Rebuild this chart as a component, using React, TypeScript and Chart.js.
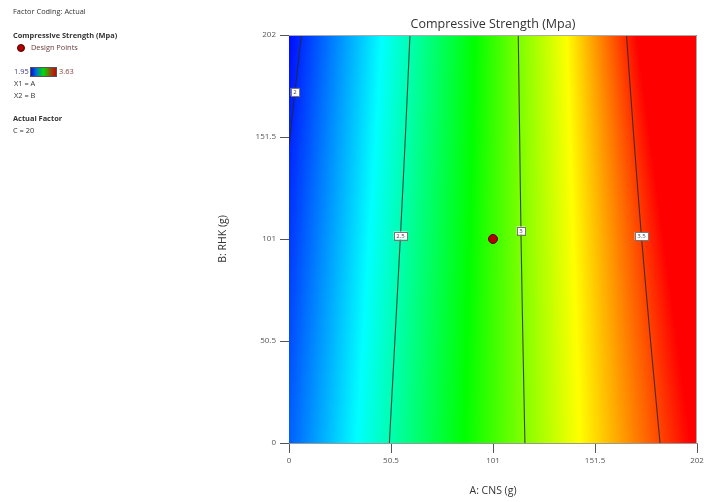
import React, { useEffect, useRef } from 'react';
import { Chart, registerables } from 'chart.js';
Chart.register(...registerables);

// ---- data ----
const axisTicks = [0, 50.5, 101, 151.5, 202];
const contourLevels = ['2', '2.5', '3', '3.5'];
const contourBGrid = [0, 50.5, 101, 151.5, 202];
const contour2A = [0, 6.1];
const contour2B = [147.5, 202];
const contour25A = [49.7, 52.4, 55.1, 57.6, 59.9];
const contour3A = [116.8, 115.8, 114.9, 114.2, 113.5];
const contour35A = [183.7, 179.0, 174.6, 170.7, 167.1];
const labelB = [173.8, 102.7, 105.2, 102.5];
const designA = [101];
const designB = [101];
const colorStops = ['rgb(0,0,255)', 'rgb(0,255,255)', 'rgb(0,255,0)', 'rgb(255,255,0)', 'rgb(255,0,0)'];
const stopsAtB0 = [-20, 33.5, 87, 144, 199];
const stopsAtB202 = [-2, 46, 92, 137.5, 172];
const valueMin = '1.95';
const valueMax = '3.63';

const FONT = '"Open Sans", "Noto Sans", sans-serif';

const contours = [
  { a: contour2A, b: contour2B },
  { a: contour25A, b: contourBGrid },
  { a: contour3A, b: contourBGrid },
  { a: contour35A, b: contourBGrid },
];

function interpA(c: { a: number[]; b: number[] }, b: number) {
  for (let i = 0; i < c.b.length - 1; i++) {
    if (b >= c.b[i] && b <= c.b[i + 1]) {
      const t = (b - c.b[i]) / (c.b[i + 1] - c.b[i]);
      return c.a[i] + (c.a[i + 1] - c.a[i]) * t;
    }
  }
  return c.a[c.a.length - 1];
}

const fieldPlugin = {
  id: 'field',
  beforeDatasetsDraw(chart: any) {
    const { ctx, chartArea } = chart;
    const xs = chart.scales.x;
    const ys = chart.scales.y;
    ctx.save();
    for (let py = Math.floor(chartArea.top); py < Math.ceil(chartArea.bottom); py++) {
      const b = ys.getValueForPixel(py + 0.5);
      const t = b / 202;
      const px = stopsAtB0.map((s0, i) => xs.getPixelForValue(s0 + (stopsAtB202[i] - s0) * t));
      const p0 = px[0];
      const p1 = px[px.length - 1];
      const g = ctx.createLinearGradient(p0, 0, p1, 0);
      px.forEach((p: number, i: number) => g.addColorStop(Math.min(1, Math.max(0, (p - p0) / (p1 - p0))), colorStops[i]));
      ctx.fillStyle = g;
      ctx.fillRect(chartArea.left, py, chartArea.right - chartArea.left, 1);
    }
    ctx.restore();
  },
  afterDatasetsDraw(chart: any) {
    const { ctx, chartArea } = chart;
    const xs = chart.scales.x;
    const ys = chart.scales.y;
    ctx.save();
    ctx.font = `6px ${FONT}`;
    ctx.textAlign = 'center';
    ctx.textBaseline = 'middle';
    contours.forEach((c, i) => {
      const b = labelB[i];
      const a = interpA(c, b);
      const x = xs.getPixelForValue(a);
      const y = ys.getPixelForValue(b);
      const txt = contourLevels[i];
      const w = ctx.measureText(txt).width + 5;
      const h = 8;
      ctx.fillStyle = '#ffffff';
      ctx.fillRect(x - w / 2, y - h / 2, w, h);
      ctx.strokeStyle = '#777';
      ctx.lineWidth = 1;
      ctx.strokeRect(Math.round(x - w / 2) + 0.5, Math.round(y - h / 2) + 0.5, Math.round(w), h);
      ctx.fillStyle = '#444';
      ctx.fillText(txt, x, y + 0.5);
    });
    ctx.strokeStyle = '#aaa';
    ctx.lineWidth = 1;
    ctx.beginPath();
    ctx.moveTo(chartArea.left, chartArea.top + 0.5);
    ctx.lineTo(chartArea.right - 0.5, chartArea.top + 0.5);
    ctx.lineTo(chartArea.right - 0.5, chartArea.bottom);
    ctx.stroke();
    ctx.restore();
  },
  afterDraw(chart: any) {
    const { ctx, chartArea } = chart;
    ctx.save();
    const cx = (chartArea.left + chartArea.right) / 2;
    ctx.fillStyle = '#333';
    ctx.textBaseline = 'middle';
    ctx.textAlign = 'center';
    ctx.font = `12.5px ${FONT}`;
    ctx.fillText('Compressive Strength (Mpa)', cx, 24);
    ctx.font = `10.5px ${FONT}`;
    ctx.fillText('A: CNS (g)', cx, 491);
    ctx.save();
    ctx.translate(223, (chartArea.top + chartArea.bottom) / 2);
    ctx.rotate(-Math.PI / 2);
    ctx.fillText('B: RHK (g)', 0, 0);
    ctx.restore();

    ctx.textAlign = 'left';
    ctx.fillStyle = '#333';
    ctx.font = `7.4px ${FONT}`;
    ctx.fillText('Factor Coding: Actual', 13, 12);
    ctx.font = `bold 7.4px ${FONT}`;
    ctx.fillText('Compressive Strength (Mpa)', 13, 36);
    ctx.beginPath();
    ctx.arc(21, 48, 3.5, 0, Math.PI * 2);
    ctx.fillStyle = '#b00000';
    ctx.fill();
    ctx.strokeStyle = '#500000';
    ctx.lineWidth = 1;
    ctx.stroke();
    ctx.font = `7.4px ${FONT}`;
    ctx.fillStyle = '#6a3b3b';
    ctx.fillText('Design Points', 31, 48);
    ctx.fillStyle = '#3b3b8a';
    ctx.fillText(valueMin, 14, 72);
    const lg = ctx.createLinearGradient(30, 0, 57, 0);
    lg.addColorStop(0, 'rgb(0,0,230)');
    lg.addColorStop(0.25, 'rgb(0,120,200)');
    lg.addColorStop(0.5, 'rgb(0,220,0)');
    lg.addColorStop(0.8, 'rgb(160,60,20)');
    lg.addColorStop(1, 'rgb(200,0,0)');
    ctx.fillStyle = lg;
    ctx.fillRect(30, 67, 27, 10);
    ctx.strokeStyle = '#555';
    ctx.strokeRect(30.5, 67.5, 26, 9);
    ctx.fillStyle = '#8a3b3b';
    ctx.fillText(valueMax, 59, 72);
    ctx.fillStyle = '#333';
    ctx.fillText('X1 = A', 14, 84);
    ctx.fillText('X2 = B', 14, 96);
    ctx.font = `bold 7.4px ${FONT}`;
    ctx.fillText('Actual Factor', 13, 119);
    ctx.font = `7.4px ${FONT}`;
    ctx.fillText('C = 20', 13, 131);
    ctx.restore();
  },
};

export default function App() {
  const ref = useRef<HTMLCanvasElement>(null);
  useEffect(() => {
    if (!ref.current) return;
    const lineDs = contours.map((c, i) => ({
      label: 'contour ' + contourLevels[i],
      data: c.a.map((a, j) => ({ x: a, y: c.b[j] })),
      showLine: true,
      borderColor: 'rgba(40,40,40,0.85)',
      borderWidth: 1.1,
      pointRadius: 0,
      tension: 0.3,
      fill: false,
    }));
    const chart = new Chart(ref.current, {
      type: 'scatter',
      data: {
        datasets: [
          ...lineDs,
          {
            label: 'Design Points',
            data: designA.map((a, i) => ({ x: a, y: designB[i] })),
            pointRadius: 4.5,
            pointBackgroundColor: '#b00000',
            pointBorderColor: '#5a0000',
            pointBorderWidth: 1,
            showLine: false,
          } as any,
        ],
      },
      options: {
        responsive: false,
        animation: false,
        layout: { padding: { top: 35, right: 18, left: 0, bottom: 0 } },
        plugins: { legend: { display: false }, tooltip: { enabled: false }, title: { display: false } },
        scales: {
          x: {
            type: 'linear',
            min: 0,
            max: 202,
            afterBuildTicks: (s: any) => { s.ticks = axisTicks.map((v) => ({ value: v })); },
            afterFit: (s: any) => { s.height = 59; },
            ticks: {
              autoSkip: false,
              maxRotation: 0,
              padding: 3,
              color: '#555',
              font: { family: FONT, size: 8 },
              callback: (v: any) => String(v),
            },
            grid: { drawOnChartArea: false, drawTicks: true, tickLength: 10, color: '#555' },
            border: { display: true, color: '#999' },
          },
          y: {
            type: 'linear',
            min: 0,
            max: 202,
            afterBuildTicks: (s: any) => { s.ticks = axisTicks.map((v) => ({ value: v })); },
            afterFit: (s: any) => { s.width = 289; },
            ticks: {
              autoSkip: false,
              padding: 4,
              color: '#555',
              font: { family: FONT, size: 8 },
              callback: (v: any) => String(v),
            },
            grid: { drawOnChartArea: false, drawTicks: true, tickLength: 9, color: '#555' },
            border: { display: true, color: '#999' },
          },
        },
      },
      plugins: [fieldPlugin],
    });
    return () => chart.destroy();
  }, []);
  return (
    <div style={{ position: 'absolute', left: 0, top: 0, width: 715, height: 502, background: '#fff' }}>
      <canvas ref={ref} width={715} height={502} />
    </div>
  );
}
